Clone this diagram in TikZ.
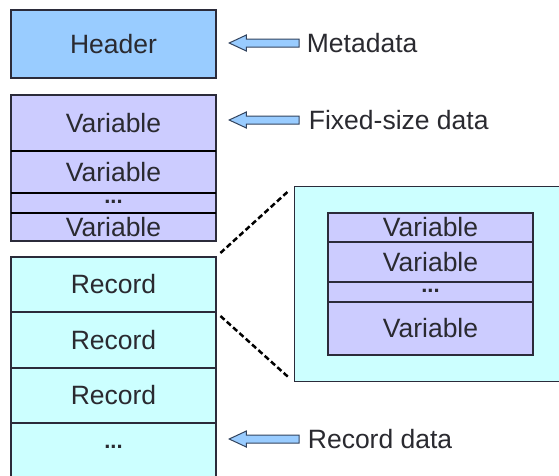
\documentclass[tikz,border=0pt]{standalone}
\usepackage{fontspec}
\setmainfont{Liberation Sans}
\usetikzlibrary{shapes.arrows,positioning}
\definecolor{hdrfill}{HTML}{99CCFF}
\definecolor{varfill}{HTML}{CCCCFF}
\definecolor{recfill}{HTML}{CCFFFF}
\definecolor{edge}{HTML}{2B2B3A}
\definecolor{txt}{HTML}{2A2A30}
\definecolor{arrowedge}{HTML}{33445E}
\begin{document}
\begin{tikzpicture}[x=1pt,y=-1pt,
  cell/.style={draw=edge, line width=1.2pt, minimum width=205pt, inner sep=0pt,
    outer sep=0pt, anchor=north west, text=txt, font=\fontsize{26.5}{30}\selectfont},
  dotsfont/.style={font=\fontsize{22}{24}\selectfont\bfseries},
  divider/.style={draw=black, line width=2.4pt},
  pointer/.style={single arrow, shape border rotate=180, draw=arrowedge, fill=hdrfill,
    line width=1pt, minimum height=70pt, minimum width=15pt, inner sep=3.5pt,
    single arrow head extend=4pt, single arrow tip angle=50, anchor=tip},
  lbl/.style={inner sep=0pt, text=txt, font=\fontsize{26.5}{30}\selectfont, anchor=west},
  zoomline/.style={draw=black, line width=2.5pt, dash pattern=on 5.5pt off 3pt,
    shorten <=6pt, shorten >=7pt}
]
\useasboundingbox (0,0) rectangle (559,475);
\clip (0,0) rectangle (559,475);
\fill[white] (0,0) rectangle (559,475);

% header
\node[cell, fill=hdrfill, minimum height=68pt] (hdr) at (11,10) {Header};

% fixed-size variables
\node[cell, fill=varfill, minimum height=56pt] (v1) at (11,95) {Variable};
\node[cell, fill=varfill, minimum height=42pt] (v2) at (11,151) {Variable};
\node[cell, fill=varfill, minimum height=20pt, dotsfont, text depth=3pt] (v3) at (11,193) {...};
\node[cell, fill=varfill, minimum height=28pt] (v4) at (11,213) {Variable};
\draw[divider] (v1.south west) -- (v1.south east);
\draw[divider] (v2.south west) -- (v2.south east);
\draw[divider] (v3.south west) -- (v3.south east);

% records
\node[cell, fill=recfill, minimum height=55pt] (r1) at (11,257) {Record};
\node[cell, fill=recfill, minimum height=56pt] (r2) at (11,312) {Record};
\node[cell, fill=recfill, minimum height=55pt] (r3) at (11,368) {Record};
\node[cell, fill=recfill, minimum height=57pt, dotsfont, text depth=10pt] (r4) at (11,423) {...};

% expanded record
\node[draw=edge, fill=recfill, line width=1.2pt, anchor=north west, inner sep=0pt,
  minimum width=290pt, minimum height=195pt] (zoom) at (294,186) {};
\node[cell, fill=varfill, minimum height=29pt] (i1) at (328,213) {Variable};
\node[cell, fill=varfill, minimum height=40pt] (i2) at (328,242) {Variable};
\node[cell, fill=varfill, minimum height=20pt, dotsfont, text depth=3pt] (i3) at (328,282) {...};
\node[cell, fill=varfill, minimum height=53pt] (i4) at (328,302) {Variable};

\draw[zoomline] (r1.north east) -- (zoom.north west);
\draw[zoomline] (r1.south east) -- (zoom.south west);

% pointers with labels
\node[pointer] (a1) at (228,43) {};
\node[lbl, right=7pt of a1] (l1) {Metadata};
\node[pointer] (a2) at (228,120) {};
\node[lbl, right=9pt of a2] (l2) {Fixed-size data};
\node[pointer] (a3) at (228,439) {};
\node[lbl, right=8pt of a3] (l3) {Record data};
\end{tikzpicture}
\end{document}
